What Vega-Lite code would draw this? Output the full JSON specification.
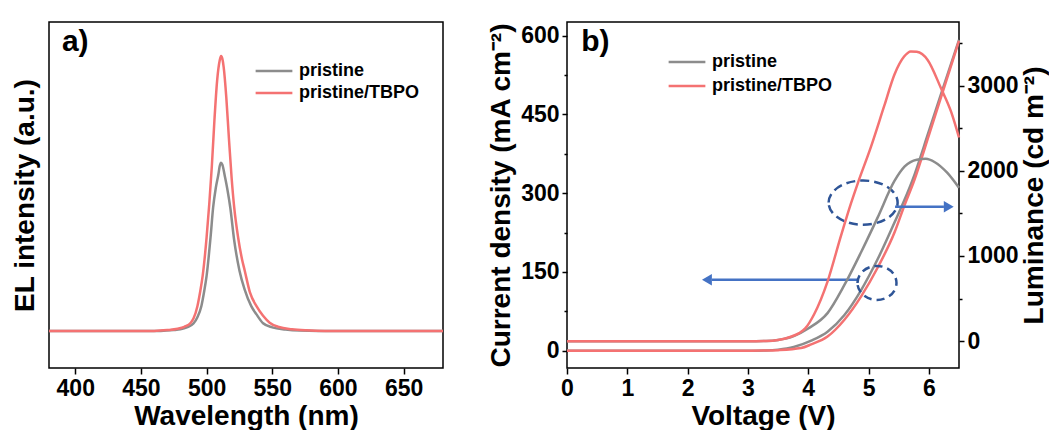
{
  "$schema": "https://vega.github.io/schema/vega-lite/v6.json",
  "background": "white",
  "padding": {"left": 10, "top": 21, "right": 0, "bottom": 0},
  "spacing": 37,
  "config": {
    "view": {"stroke": "black", "strokeWidth": 1.5},
    "font": "Liberation Sans",
    "axis": {
      "labelFont": "Liberation Sans", "labelFontWeight": "bold", "labelFontSize": 23, "labelColor": "black",
      "titleFont": "Liberation Sans", "titleFontWeight": "bold", "titleFontSize": 28, "titleColor": "black",
      "tickColor": "black", "tickWidth": 1.5, "domain": false, "grid": false,
      "labelPadding": 3, "labelFlush": false, "labelOverlap": false
    },
    "legend": {
      "orient": "none", "title": null, "symbolType": "M -3 0 L 3 0", "symbolSize": 150, "symbolStrokeWidth": 2.5,
      "labelFont": "Liberation Sans", "labelFontSize": 18, "labelFontWeight": "bold", "labelColor": "black",
      "labelOffset": 16, "padding": 0
    }
  },
  "resolve": {"scale": {"color": "independent"}, "legend": {"color": "independent"}},
  "datasets": {
    "el": [
      {"wl": 380, "I": 0, "s": "pristine"}, {"wl": 465, "I": 0, "s": "pristine"}, {"wl": 475, "I": 0.003, "s": "pristine"},
      {"wl": 480, "I": 0.006, "s": "pristine"}, {"wl": 485, "I": 0.013, "s": "pristine"}, {"wl": 490, "I": 0.027, "s": "pristine"},
      {"wl": 493, "I": 0.05, "s": "pristine"}, {"wl": 496, "I": 0.09, "s": "pristine"}, {"wl": 498, "I": 0.14, "s": "pristine"},
      {"wl": 500, "I": 0.2, "s": "pristine"}, {"wl": 503, "I": 0.34, "s": "pristine"}, {"wl": 505, "I": 0.45, "s": "pristine"},
      {"wl": 507, "I": 0.52, "s": "pristine"}, {"wl": 509, "I": 0.57, "s": "pristine"}, {"wl": 510, "I": 0.6, "s": "pristine"},
      {"wl": 511, "I": 0.612, "s": "pristine"}, {"wl": 512, "I": 0.605, "s": "pristine"}, {"wl": 514, "I": 0.56, "s": "pristine"},
      {"wl": 516, "I": 0.51, "s": "pristine"}, {"wl": 518, "I": 0.45, "s": "pristine"}, {"wl": 521, "I": 0.33, "s": "pristine"},
      {"wl": 525, "I": 0.22, "s": "pristine"}, {"wl": 529, "I": 0.15, "s": "pristine"}, {"wl": 534, "I": 0.09, "s": "pristine"},
      {"wl": 538, "I": 0.06, "s": "pristine"}, {"wl": 543, "I": 0.028, "s": "pristine"}, {"wl": 550, "I": 0.013, "s": "pristine"},
      {"wl": 560, "I": 0.005, "s": "pristine"}, {"wl": 571, "I": 0.001, "s": "pristine"}, {"wl": 585, "I": 0, "s": "pristine"},
      {"wl": 680, "I": 0, "s": "pristine"},
      {"wl": 380, "I": 0, "s": "pristine/TBPO"}, {"wl": 460, "I": 0, "s": "pristine/TBPO"}, {"wl": 470, "I": 0.003, "s": "pristine/TBPO"},
      {"wl": 478, "I": 0.008, "s": "pristine/TBPO"}, {"wl": 483, "I": 0.015, "s": "pristine/TBPO"}, {"wl": 488, "I": 0.03, "s": "pristine/TBPO"},
      {"wl": 490, "I": 0.045, "s": "pristine/TBPO"}, {"wl": 493, "I": 0.09, "s": "pristine/TBPO"}, {"wl": 495, "I": 0.14, "s": "pristine/TBPO"},
      {"wl": 497, "I": 0.2, "s": "pristine/TBPO"}, {"wl": 500, "I": 0.34, "s": "pristine/TBPO"}, {"wl": 502, "I": 0.46, "s": "pristine/TBPO"},
      {"wl": 504, "I": 0.6, "s": "pristine/TBPO"}, {"wl": 506, "I": 0.77, "s": "pristine/TBPO"}, {"wl": 508, "I": 0.91, "s": "pristine/TBPO"},
      {"wl": 510, "I": 0.985, "s": "pristine/TBPO"}, {"wl": 511, "I": 1.0, "s": "pristine/TBPO"}, {"wl": 512, "I": 0.99, "s": "pristine/TBPO"},
      {"wl": 513, "I": 0.96, "s": "pristine/TBPO"}, {"wl": 515, "I": 0.85, "s": "pristine/TBPO"}, {"wl": 517, "I": 0.7, "s": "pristine/TBPO"},
      {"wl": 519, "I": 0.56, "s": "pristine/TBPO"}, {"wl": 521, "I": 0.45, "s": "pristine/TBPO"}, {"wl": 524, "I": 0.34, "s": "pristine/TBPO"},
      {"wl": 527, "I": 0.26, "s": "pristine/TBPO"}, {"wl": 529, "I": 0.22, "s": "pristine/TBPO"}, {"wl": 533, "I": 0.14, "s": "pristine/TBPO"},
      {"wl": 538, "I": 0.09, "s": "pristine/TBPO"}, {"wl": 543, "I": 0.055, "s": "pristine/TBPO"}, {"wl": 548, "I": 0.03, "s": "pristine/TBPO"},
      {"wl": 555, "I": 0.014, "s": "pristine/TBPO"}, {"wl": 565, "I": 0.006, "s": "pristine/TBPO"}, {"wl": 576, "I": 0.002, "s": "pristine/TBPO"},
      {"wl": 590, "I": 0, "s": "pristine/TBPO"}, {"wl": 680, "I": 0, "s": "pristine/TBPO"}
    ],
    "jv": [
      {"V": 0, "J": 0, "s": "pristine"}, {"V": 1, "J": 0, "s": "pristine"}, {"V": 2, "J": 0, "s": "pristine"}, {"V": 3, "J": 0, "s": "pristine"},
      {"V": 3.3, "J": 0.5, "s": "pristine"}, {"V": 3.5, "J": 2, "s": "pristine"}, {"V": 3.76, "J": 7, "s": "pristine"},
      {"V": 4.05, "J": 19, "s": "pristine"}, {"V": 4.32, "J": 36, "s": "pristine"}, {"V": 4.6, "J": 68, "s": "pristine"},
      {"V": 4.88, "J": 116, "s": "pristine"}, {"V": 5.15, "J": 174, "s": "pristine"}, {"V": 5.43, "J": 244, "s": "pristine"},
      {"V": 5.73, "J": 325, "s": "pristine"}, {"V": 6.0, "J": 418, "s": "pristine"}, {"V": 6.2, "J": 488, "s": "pristine"},
      {"V": 6.5, "J": 592, "s": "pristine"},
      {"V": 0, "J": 0, "s": "pristine/TBPO"}, {"V": 1, "J": 0, "s": "pristine/TBPO"}, {"V": 2, "J": 0, "s": "pristine/TBPO"}, {"V": 3, "J": 0, "s": "pristine/TBPO"},
      {"V": 3.3, "J": 0.3, "s": "pristine/TBPO"}, {"V": 3.5, "J": 1, "s": "pristine/TBPO"}, {"V": 3.88, "J": 5, "s": "pristine/TBPO"},
      {"V": 4.05, "J": 12, "s": "pristine/TBPO"}, {"V": 4.32, "J": 27, "s": "pristine/TBPO"}, {"V": 4.6, "J": 59, "s": "pristine/TBPO"},
      {"V": 4.88, "J": 104, "s": "pristine/TBPO"}, {"V": 5.15, "J": 158, "s": "pristine/TBPO"}, {"V": 5.43, "J": 225, "s": "pristine/TBPO"},
      {"V": 5.59, "J": 275, "s": "pristine/TBPO"}, {"V": 5.76, "J": 325, "s": "pristine/TBPO"}, {"V": 6.0, "J": 410, "s": "pristine/TBPO"},
      {"V": 6.2, "J": 482, "s": "pristine/TBPO"}, {"V": 6.5, "J": 590, "s": "pristine/TBPO"}
    ],
    "lv": [
      {"V": 0, "L": 0, "s": "pristine"}, {"V": 1, "L": 0, "s": "pristine"}, {"V": 2, "L": 0, "s": "pristine"}, {"V": 3, "L": 0, "s": "pristine"},
      {"V": 3.3, "L": 3, "s": "pristine"}, {"V": 3.5, "L": 15, "s": "pristine"}, {"V": 3.76, "L": 60, "s": "pristine"},
      {"V": 4.0, "L": 150, "s": "pristine"}, {"V": 4.32, "L": 330, "s": "pristine"}, {"V": 4.6, "L": 660, "s": "pristine"},
      {"V": 4.88, "L": 1050, "s": "pristine"}, {"V": 5.15, "L": 1450, "s": "pristine"}, {"V": 5.43, "L": 1880, "s": "pristine"},
      {"V": 5.6, "L": 2050, "s": "pristine"}, {"V": 5.8, "L": 2130, "s": "pristine"}, {"V": 5.95, "L": 2140, "s": "pristine"},
      {"V": 6.1, "L": 2100, "s": "pristine"}, {"V": 6.3, "L": 1980, "s": "pristine"}, {"V": 6.5, "L": 1800, "s": "pristine"},
      {"V": 0, "L": 0, "s": "pristine/TBPO"}, {"V": 1, "L": 0, "s": "pristine/TBPO"}, {"V": 2, "L": 0, "s": "pristine/TBPO"}, {"V": 3, "L": 0, "s": "pristine/TBPO"},
      {"V": 3.3, "L": 3, "s": "pristine/TBPO"}, {"V": 3.5, "L": 15, "s": "pristine/TBPO"}, {"V": 3.7, "L": 50, "s": "pristine/TBPO"},
      {"V": 3.85, "L": 95, "s": "pristine/TBPO"}, {"V": 3.95, "L": 150, "s": "pristine/TBPO"}, {"V": 4.1, "L": 320, "s": "pristine/TBPO"},
      {"V": 4.32, "L": 700, "s": "pristine/TBPO"}, {"V": 4.54, "L": 1230, "s": "pristine/TBPO"}, {"V": 4.71, "L": 1620, "s": "pristine/TBPO"},
      {"V": 4.82, "L": 1850, "s": "pristine/TBPO"}, {"V": 5.04, "L": 2280, "s": "pristine/TBPO"}, {"V": 5.26, "L": 2760, "s": "pristine/TBPO"},
      {"V": 5.43, "L": 3130, "s": "pristine/TBPO"}, {"V": 5.59, "L": 3340, "s": "pristine/TBPO"}, {"V": 5.7, "L": 3400, "s": "pristine/TBPO"},
      {"V": 5.8, "L": 3395, "s": "pristine/TBPO"}, {"V": 5.98, "L": 3300, "s": "pristine/TBPO"}, {"V": 6.2, "L": 2970, "s": "pristine/TBPO"},
      {"V": 6.37, "L": 2690, "s": "pristine/TBPO"}, {"V": 6.5, "L": 2390, "s": "pristine/TBPO"}
    ],
    "arrows": [
      {"V": 4.81, "V2": 2.4, "J": 135, "tip": 2.32, "dir": "left"},
      {"V": 5.44, "V2": 6.25, "J": 274, "tip": 6.33, "dir": "right"}
    ],
    "ellipseBig": [{"V": 4.91, "J": 282}],
    "ellipseSmall": [{"V": 5.14, "J": 129}],
    "labA": [{"wl": 400, "I": 1.05, "t": "a)"}],
    "labB": [{"V": 0.47, "J": 587, "t": "b)"}]
  },
  "hconcat": [
    {
      "width": 394, "height": 346,
      "layer": [
        {
          "data": {"name": "el"},
          "mark": {"type": "line", "strokeWidth": 2.5, "interpolate": "monotone"},
          "encoding": {
            "x": {"field": "wl", "type": "quantitative", "scale": {"domain": [380, 680], "nice": false, "zero": false},
              "axis": {"values": [400, 425, 450, 475, 500, 525, 550, 575, 600, 625, 650, 675], "title": "Wavelength (nm)", "titlePadding": 2,
                "labelExpr": "datum.value % 50 === 0 ? datum.label : ''",
                "tickSize": {"condition": {"test": "datum.value % 50 === 0", "value": 6}, "value": 3}}},
            "y": {"field": "I", "type": "quantitative", "scale": {"domain": [-0.135, 1.124], "nice": false, "zero": false},
              "axis": {"title": "EL intensity (a.u.)", "labels": false, "ticks": false, "titlePadding": 10}},
            "color": {"field": "s", "type": "nominal", "scale": {"domain": ["pristine", "pristine/TBPO"], "range": ["#8c8c8c", "#f47272"]},
              "legend": {"legendX": 216, "legendY": 40, "rowPadding": 4}}
          }
        },
        {
          "data": {"name": "labA"},
          "mark": {"type": "text", "fontSize": 30, "fontWeight": "bold", "font": "Liberation Sans", "align": "center", "baseline": "middle", "color": "black"},
          "encoding": {
            "x": {"field": "wl", "type": "quantitative"},
            "y": {"field": "I", "type": "quantitative"},
            "text": {"field": "t"}
          }
        }
      ]
    },
    {
      "width": 392, "height": 346,
      "resolve": {"scale": {"y": "independent"}},
      "layer": [
        {
          "layer": [
            {
              "data": {"name": "jv"},
              "mark": {"type": "line", "strokeWidth": 2.5, "interpolate": "monotone"},
              "encoding": {
                "x": {"field": "V", "type": "quantitative", "scale": {"domain": [0, 6.5], "nice": false},
                  "axis": {"values": [0, 0.5, 1, 1.5, 2, 2.5, 3, 3.5, 4, 4.5, 5, 5.5, 6, 6.5], "title": "Voltage (V)", "titlePadding": 2, "format": "d",
                    "labelExpr": "datum.value % 1 === 0 ? datum.label : ''",
                    "tickSize": {"condition": {"test": "datum.value % 1 === 0", "value": 6}, "value": 3}}},
                "y": {"field": "J", "type": "quantitative", "scale": {"domain": [-33, 626], "nice": false, "zero": false},
                  "axis": {"values": [0, 75, 150, 225, 300, 375, 450, 525, 600], "title": "Current density (mA cm⁻²)", "titlePadding": 5,
                    "labelExpr": "datum.value % 150 === 0 ? datum.label : ''",
                    "tickSize": {"condition": {"test": "datum.value % 150 === 0", "value": 5}, "value": 3}}},
                "color": {"field": "s", "type": "nominal", "scale": {"domain": ["pristine", "pristine/TBPO"], "range": ["#8c8c8c", "#f47272"]},
                  "legend": {"legendX": 111, "legendY": 31, "rowPadding": 6}}
              }
            },
            {
              "data": {"name": "arrows"},
              "mark": {"type": "rule", "strokeWidth": 2.5, "color": "#4472c4"},
              "encoding": {
                "x": {"field": "V", "type": "quantitative"},
                "x2": {"field": "V2"},
                "y": {"field": "J", "type": "quantitative"}
              }
            },
            {
              "data": {"name": "arrows"},
              "mark": {"type": "point", "filled": true, "size": 130, "color": "#4472c4", "opacity": 1},
              "encoding": {
                "x": {"field": "tip", "type": "quantitative", "title": "Voltage (V)"},
                "y": {"field": "J", "type": "quantitative"},
                "shape": {"field": "dir", "type": "nominal", "scale": {"domain": ["left", "right"], "range": ["triangle-left", "triangle-right"]}, "legend": null}
              }
            },
            {
              "data": {"name": "ellipseBig"},
              "mark": {"type": "point", "filled": false, "size": 4761, "strokeWidth": 2.5, "strokeDash": [9, 5], "color": "#2f5597", "opacity": 1,
                "shape": "M -1 0 C -1 -0.353 -0.552 -0.64 0 -0.64 C 0.552 -0.64 1 -0.353 1 0 C 1 0.353 0.552 0.64 0 0.64 C -0.552 0.64 -1 0.353 -1 0 Z"},
              "encoding": {
                "x": {"field": "V", "type": "quantitative"},
                "y": {"field": "J", "type": "quantitative"}
              }
            },
            {
              "data": {"name": "ellipseSmall"},
              "mark": {"type": "point", "filled": false, "size": 1521, "strokeWidth": 2.5, "strokeDash": [8, 5], "color": "#2f5597", "opacity": 1,
                "shape": "M -1 0 C -1 -0.48 -0.552 -0.87 0 -0.87 C 0.552 -0.87 1 -0.48 1 0 C 1 0.48 0.552 0.87 0 0.87 C -0.552 0.87 -1 0.48 -1 0 Z"},
              "encoding": {
                "x": {"field": "V", "type": "quantitative"},
                "y": {"field": "J", "type": "quantitative"}
              }
            },
            {
              "data": {"name": "labB"},
              "mark": {"type": "text", "fontSize": 30, "fontWeight": "bold", "font": "Liberation Sans", "align": "center", "baseline": "middle", "color": "black"},
              "encoding": {
                "x": {"field": "V", "type": "quantitative"},
                "y": {"field": "J", "type": "quantitative"},
                "text": {"field": "t"}
              }
            }
          ]
        },
        {
          "data": {"name": "lv"},
          "mark": {"type": "line", "strokeWidth": 2.5, "interpolate": "monotone"},
          "encoding": {
            "x": {"field": "V", "type": "quantitative"},
            "y": {"field": "L", "type": "quantitative", "scale": {"domain": [-314, 3745], "nice": false, "zero": false},
              "axis": {"orient": "right", "values": [0, 500, 1000, 1500, 2000, 2500, 3000, 3500], "title": "Luminance (cd m⁻²)", "format": "d",
                "titleAngle": 270, "titleBaseline": "top", "titlePadding": 2,
                "labelExpr": "datum.value % 1000 === 0 ? datum.label : ''",
                "tickSize": {"condition": {"test": "datum.value % 1000 === 0", "value": 5}, "value": 3}}},
            "color": {"field": "s", "type": "nominal", "scale": {"domain": ["pristine", "pristine/TBPO"], "range": ["#8c8c8c", "#f47272"]}, "legend": null}
          }
        }
      ]
    }
  ]
}
